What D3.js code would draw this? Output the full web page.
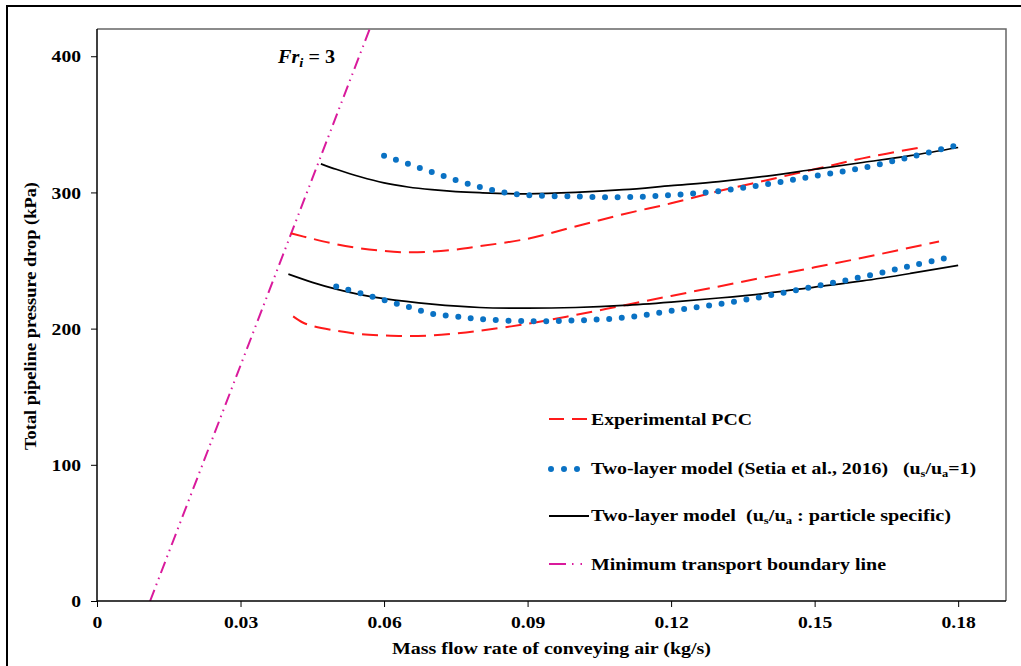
<!DOCTYPE html>
<html>
<head>
<meta charset="utf-8">
<script src="https://cdn.jsdelivr.net/npm/d3@7"></script>
<style>
  body { margin: 0; background: #fff; }
  svg { display: block; font-family: "Liberation Serif", "Times New Roman", serif; font-weight: bold; }
</style>
</head>
<body>
<svg id="chart"></svg>
<script>
// data (x: kg/s, y: kPa)
const expUpper = [[0.0405,270],[0.045,266],[0.05,262],[0.055,259],[0.06,257],[0.065,256],[0.07,256.5],[0.075,258],[0.08,260.5],[0.09,266],[0.1,275],[0.11,284],[0.12,292],[0.13,301],[0.14,309],[0.15,317],[0.16,325],[0.172,333]];
const expLower = [[0.041,209],[0.043,204.5],[0.045,202],[0.05,198.5],[0.055,196],[0.06,195],[0.065,194.5],[0.07,195],[0.075,196.5],[0.08,198.5],[0.09,203.5],[0.1,210],[0.11,217],[0.12,224],[0.13,231],[0.14,238],[0.15,245],[0.16,252],[0.176,264]];
const setiaUpper = [[0.06,327],[0.065,321],[0.07,315],[0.075,309],[0.08,304],[0.085,300],[0.09,298],[0.1,297],[0.11,296.5],[0.12,298],[0.13,301],[0.14,306],[0.15,312],[0.16,318],[0.17,326],[0.179,334]];
const setiaLower = [[0.05,231],[0.055,226],[0.06,221],[0.065,216],[0.07,211],[0.075,209],[0.08,207],[0.09,205.5],[0.1,206],[0.11,208],[0.12,213],[0.13,218],[0.14,224],[0.15,231],[0.16,238],[0.17,246],[0.179,253]];
const modelUpper = [[0.0468,321],[0.05,317],[0.055,311.5],[0.06,307],[0.065,304],[0.07,302],[0.075,300.6],[0.08,299.8],[0.09,299],[0.1,300],[0.11,302],[0.12,305],[0.13,308],[0.14,312],[0.15,317],[0.16,322],[0.17,327],[0.18,333]];
const modelLower = [[0.04,240],[0.045,234],[0.05,229],[0.055,225],[0.06,222],[0.07,218],[0.08,215.5],[0.09,215],[0.1,215.5],[0.11,217],[0.12,219.5],[0.13,222.5],[0.14,226],[0.15,230.5],[0.16,235],[0.17,240.5],[0.18,246.5]];
const boundary = [[0.0111,0],[0.057,420]];

const xTicks = [0, 0.03, 0.06, 0.09, 0.12, 0.15, 0.18];
const yTicks = [0, 100, 200, 300, 400];

const width = 1021, height = 666;
const marginTop = 29, marginRight = 15, marginBottom = 65, marginLeft = 97;

const svg = d3.select("#chart").attr("width", width).attr("height", height);

// the original text looks stretched sideways, so widen each label a bit
const stretch = (sel, k) => sel.each(function () {
  this.setAttribute("textLength", this.getComputedTextLength() * k);
  this.setAttribute("lengthAdjust", "spacingAndGlyphs");
});

// outer frame (only top and left show in the crop)
svg.append("path").attr("d", `M7,${height}V6H${width}`)
  .attr("fill", "none").attr("stroke", "#000").attr("stroke-width", 2);

const x = d3.scaleLinear([0, 0.19], [marginLeft, width - marginRight]);
const y = d3.scaleLinear([0, 420], [height - marginBottom, marginTop]);

// plot frame
svg.append("path")
  .attr("d", `M${x(0)},${y(420)}H${x(0.19)}V${y(0)}`)
  .attr("fill", "none").attr("stroke", "#666").attr("stroke-width", 1.5);

svg.append("clipPath").attr("id", "clip")
  .append("rect").attr("x", x(0)).attr("y", y(420))
  .attr("width", x(0.19) - x(0)).attr("height", y(0) - y(420));

const line = d3.line().x(d => x(d[0])).y(d => y(d[1])).curve(d3.curveCatmullRom.alpha(0.5));
const straight = d3.line().x(d => x(d[0])).y(d => y(d[1]));

const g = svg.append("g").attr("clip-path", "url(#clip)");

g.append("path").datum(boundary).attr("d", straight)
  .attr("fill", "none").attr("stroke", "#d91a9c").attr("stroke-width", 2)
  .attr("stroke-dasharray", "12,5,1.5,5,1.5,5");

for (const s of [expUpper, expLower]) {
  g.append("path").datum(s).attr("d", line)
    .attr("fill", "none").attr("stroke", "#ff1a1a").attr("stroke-width", 2)
    .attr("stroke-dasharray", "16,8");
}
for (const s of [modelUpper, modelLower]) {
  g.append("path").datum(s).attr("d", line)
    .attr("fill", "none").attr("stroke", "#000").attr("stroke-width", 1.7);
}
for (const s of [setiaUpper, setiaLower]) {
  g.append("path").datum(s).attr("d", line)
    .attr("fill", "none").attr("stroke", "#0a72c4").attr("stroke-width", 6)
    .attr("stroke-linecap", "round").attr("stroke-dasharray", "0,12.6");
}

// axes
svg.append("g")
  .attr("transform", `translate(0,${y(0)})`)
  .call(d3.axisBottom(x).tickValues(xTicks).tickSize(6).tickPadding(9)
    .tickFormat(d => d === 0 ? "0" : d3.format(".2f")(d)))
  .call(g => g.attr("font-family", null).attr("font-size", 17.5))
  .call(g => g.select(".domain").attr("d", `M${x(0)},0H${x(0.19)}`).attr("stroke-width", 1.5))
  .call(g => g.selectAll("text").attr("fill", "#000").call(stretch, 1.12));

svg.append("g")
  .attr("transform", `translate(${x(0)},0)`)
  .call(d3.axisLeft(y).tickValues(yTicks).tickSize(6).tickPadding(10))
  .call(g => g.attr("font-family", null).attr("font-size", 17.5))
  .call(g => g.select(".domain").attr("d", `M0,${y(0)}V${y(420)}`).attr("stroke-width", 1.5))
  .call(g => g.selectAll("text").attr("fill", "#000").call(stretch, 1.12));

// axis titles
svg.append("text")
  .attr("x", 392).attr("y", 654).attr("font-size", 17.5)
  .attr("textLength", 319).attr("lengthAdjust", "spacingAndGlyphs")
  .text("Mass flow rate of conveying air (kg/s)");

svg.append("text")
  .attr("transform", `translate(36,450) rotate(-90)`).attr("font-size", 17)
  .attr("textLength", 268).attr("lengthAdjust", "spacingAndGlyphs")
  .text("Total pipeline pressure drop (kPa)");

// Fr_i = 3 annotation
const fr = svg.append("text").attr("x", 278).attr("y", 63).attr("font-size", 18)
  .attr("textLength", 57).attr("lengthAdjust", "spacingAndGlyphs");
fr.append("tspan").attr("font-style", "italic").text("Fr");
fr.append("tspan").attr("font-style", "italic").attr("font-size", 13).attr("dy", 4).text("i");
fr.append("tspan").attr("dy", -4).text(" = 3");

// legend
const legend = svg.append("g").attr("font-size", 16);
const lx = 549, tx = 591;
const fit = (t, w) => t.attr("textLength", w).attr("lengthAdjust", "spacingAndGlyphs");

legend.append("line").attr("x1", lx).attr("x2", lx + 38).attr("y1", 419).attr("y2", 419)
  .attr("stroke", "#ff1a1a").attr("stroke-width", 2).attr("stroke-dasharray", "15,8");
legend.append("text").attr("x", tx).attr("y", 425).text("Experimental PCC").call(fit, 161);

legend.append("line").attr("x1", lx + 2).attr("x2", lx + 30).attr("y1", 469).attr("y2", 469)
  .attr("stroke", "#0a72c4").attr("stroke-width", 6).attr("stroke-linecap", "round")
  .attr("stroke-dasharray", "0,13");
const t2 = legend.append("text").attr("x", tx).attr("y", 474);
t2.append("tspan").text("Two-layer model (Setia et al., 2016)\u00a0\u00a0\u00a0(u");
t2.append("tspan").attr("font-size", 10).attr("dy", 3).text("s");
t2.append("tspan").attr("dy", -3).text("/u");
t2.append("tspan").attr("font-size", 10).attr("dy", 3).text("a");
t2.append("tspan").attr("dy", -3).text("=1)");
t2.call(fit, 385);

legend.append("line").attr("x1", lx).attr("x2", lx + 40).attr("y1", 516).attr("y2", 516)
  .attr("stroke", "#000").attr("stroke-width", 1.8);
const t3 = legend.append("text").attr("x", tx).attr("y", 521);
t3.append("tspan").text("Two-layer model\u00a0\u00a0(u");
t3.append("tspan").attr("font-size", 10).attr("dy", 3).text("s");
t3.append("tspan").attr("dy", -3).text("/u");
t3.append("tspan").attr("font-size", 10).attr("dy", 3).text("a");
t3.append("tspan").attr("dy", -3).text(" : particle specific)");
t3.call(fit, 360);

legend.append("line").attr("x1", lx).attr("x2", lx + 36).attr("y1", 564).attr("y2", 564)
  .attr("stroke", "#d91a9c").attr("stroke-width", 2).attr("stroke-dasharray", "17,6,1.5,7,1.5,10");
legend.append("text").attr("x", tx).attr("y", 570).text("Minimum transport boundary line").call(fit, 295);
</script>
</body>
</html>
